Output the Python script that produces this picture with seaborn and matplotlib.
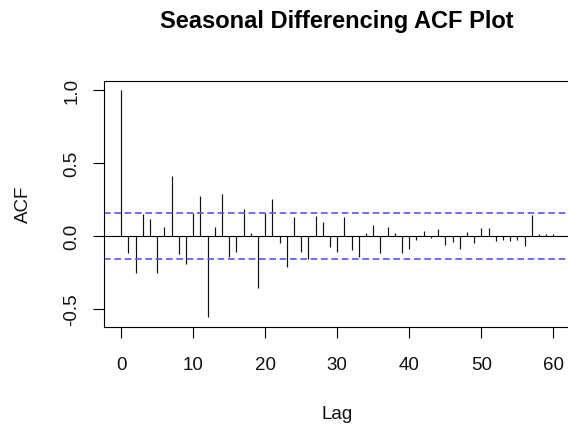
import numpy as np
import pandas as pd
import seaborn as sns
import matplotlib.pyplot as plt

# ACF values, lag 0..60
lags = list(range(61))
acf_values = [
    1.000, -0.114, -0.255, 0.153, 0.116, -0.255, 0.064, 0.413, -0.123, -0.194,
    0.160, 0.272, -0.557, 0.064, 0.288, -0.141, -0.107, 0.183, 0.018, -0.357,
    0.155, 0.251, -0.050, -0.214, 0.128, -0.107, -0.158, 0.135, 0.098, -0.077,
    -0.107, 0.128, -0.098, -0.141, 0.018, 0.073, -0.116, 0.064, 0.018, -0.114,
    -0.089, -0.027, 0.037, -0.016, 0.046, -0.062, -0.043, -0.089, 0.027, -0.050,
    0.055, 0.055, -0.034, -0.025, -0.037, -0.025, -0.071, 0.144, 0.011, 0.011,
    0.011,
]
conf_bound = 0.16
x_ticks = [0, 10, 20, 30, 40, 50, 60]
y_ticks = [-0.5, 0.0, 0.5, 1.0]

df = pd.DataFrame({"lag": lags, "acf": acf_values})

sns.set_theme(style="white")
plt.rcParams["font.family"] = ["Liberation Sans", "DejaVu Sans"]

fig = plt.figure(figsize=(5.68, 4.27), dpi=100)
ax = fig.add_axes([0.183, 0.233, 0.8216, 0.575])

ax.vlines(df["lag"], 0, df["acf"], color="#111111", linewidth=0.85)
ax.axhline(0, color="black", linewidth=0.8)
for b in (conf_bound, -conf_bound):
    ax.axhline(b, color="#5555ff", linewidth=1.2, linestyle=(0, (4, 2.2)))

ax.set_xlim(-2.4, 62.4)
ax.set_ylim(-0.62, 1.062)
ax.set_xticks(x_ticks)
ax.set_yticks(y_ticks)
ax.set_yticklabels([f"{v:.1f}" for v in y_ticks])

for s in ax.spines.values():
    s.set_color("black")
    s.set_linewidth(0.8)

ax.tick_params(axis="both", which="major", direction="out", length=8,
               width=0.8, color="black", labelsize=13.5, labelcolor="#111111",
               bottom=True, left=True)
ax.tick_params(axis="x", pad=13)
ax.tick_params(axis="y", pad=9)
plt.setp(ax.get_yticklabels(), rotation=90, va="center")

ax.set_xlabel("Lag", fontsize=13.5, color="#111111")
ax.set_ylabel("ACF", fontsize=13.5, color="#111111")
ax.xaxis.set_label_coords(0.5, -0.32)
ax.yaxis.set_label_coords(-0.155, 0.5)

fig.text(337 / 568, 1 - 28 / 427, "Seasonal Differencing ACF Plot",
         ha="center", va="baseline", fontsize=17, fontweight="bold",
         color="black")

fig.savefig("out.png", dpi=100)
